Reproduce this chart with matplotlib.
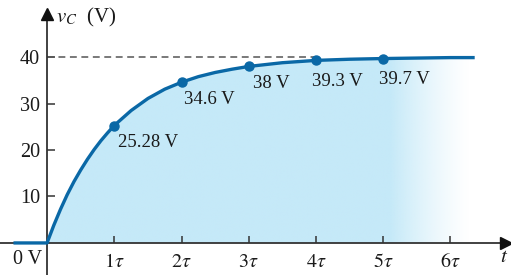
import numpy as np
import matplotlib
matplotlib.use("Agg")
import matplotlib.pyplot as plt

plt.rcParams['font.family'] = ['Liberation Serif', 'DejaVu Serif']
plt.rcParams['mathtext.fontset'] = 'stix'

# curve values (t in units of tau, v in volts)
t_curve = [-0.5, 0, 0.1, 0.2, 0.3, 0.4, 0.5, 0.6, 0.7, 0.8, 0.9, 1.0, 1.25, 1.5,
           1.75, 2.0, 2.25, 2.5, 2.75, 3.0, 3.5, 4.0, 4.5, 5.0, 5.5, 6.0, 6.36]
v_curve = [0, 0, 3.8, 7.25, 10.4, 13.2, 15.7, 18.0, 20.1, 22.0, 23.7, 25.3, 28.5, 31.1,
           33.1, 34.6, 35.8, 36.7, 37.4, 38.0, 38.8, 39.3, 39.55, 39.7, 39.8, 39.9, 39.9]

# labelled points
t_pts = [1, 2, 3, 4, 5]
v_pts = [25.28, 34.6, 38, 39.3, 39.7]
pt_labels = ['25.28 V', '34.6 V', '38 V', '39.3 V', '39.7 V']

y_ticks = [10, 20, 30, 40]
x_ticks = [1, 2, 3, 4, 5, 6]
x_ticklabels = [r'$1\tau$', r'$2\tau$', r'$3\tau$', r'$4\tau$', r'$5\tau$', r'$6\tau$']

blue = '#0a68a6'
fill_c = '#c5e9f8'
axc = '#333333'
txt = '#1a1a1a'

fig = plt.figure(figsize=(5.11, 2.75), dpi=100)
ax = fig.add_axes([0, 0, 1, 1])
ax.set_xlim(-0.70, 6.90)
ax.set_ylim(-6.9, 52.3)

# gradient fill under the curve
tc = np.array(t_curve)
vc = np.array(v_curve)
m = tc >= 0
poly = ax.fill_between(tc[m], 0, vc[m], color='none', lw=0)
xs = np.linspace(0, 6.36, 400)
alpha = np.clip((6.3 - xs) / (6.3 - 5.1), 0, 1) ** 1.3
img = np.zeros((1, len(xs), 4))
img[..., :3] = matplotlib.colors.to_rgb(fill_c)
img[0, :, 3] = alpha
im = ax.imshow(img, extent=[0, 6.36, 0, 40], aspect='auto', zorder=1, interpolation='bilinear')
im.set_clip_path(poly.get_paths()[0], transform=ax.transData)

# dashed asymptote
ax.plot([0, 4.0], [40, 40], ls=(0, (4.5, 3)), color='#555555', lw=1.1, zorder=2)

# curve and points
ax.plot(t_curve, v_curve, color=blue, lw=2.4, zorder=4, solid_capstyle='butt')
ax.plot(t_pts, v_pts, 'o', color=blue, ms=6.5, zorder=5)

offsets = [(2.5, -6), (2, -6), (3, -6.5), (-3, -9), (-3, -9)]
for tp, vp, lab, (dx, dy) in zip(t_pts, v_pts, pt_labels, offsets):
    ax.annotate(lab, (tp, vp), xytext=(dx, dy), textcoords='offset points',
                ha='left', va='top', fontsize=13.5, color=txt, zorder=6)

# axes through the origin
for s in ['top', 'right']:
    ax.spines[s].set_visible(False)
ax.spines['left'].set_position(('data', 0))
ax.spines['bottom'].set_position(('data', 0))
ax.spines['left'].set_bounds(-6.9, 48.5)
ax.spines['bottom'].set_bounds(-0.7, 6.75)
for s in ['left', 'bottom']:
    ax.spines[s].set_color(axc)
    ax.spines[s].set_linewidth(1.3)
    ax.spines[s].set_zorder(3)
ax.plot([6.82], [0], '>', color='#111111', ms=8, clip_on=False, zorder=6)
ax.plot([0], [49.3], '^', color='#111111', ms=8, clip_on=False, zorder=6)

ax.set_yticks(y_ticks)
ax.set_yticklabels([str(v) for v in y_ticks])
ax.set_xticks(x_ticks)
ax.set_xticklabels(x_ticklabels)
ax.tick_params(axis='y', direction='in', length=6, width=1.1, color=axc, pad=5,
               labelsize=14.5, labelcolor=txt)
ax.tick_params(axis='x', direction='in', length=5, width=1.1, color=axc, pad=7,
               labelsize=14.5, labelcolor=txt)

ax.text(-0.29, -1.5, '0 V', ha='center', va='top', fontsize=14.5, color=txt)
ax.text(6.8, -1.1, r'$t$', ha='center', va='top', fontsize=15, color=txt)
ax.text(0.13, 48.6, r'$v_C$  (V)', ha='left', va='center', fontsize=15, color=txt)

fig.savefig('out.png', dpi=100)
